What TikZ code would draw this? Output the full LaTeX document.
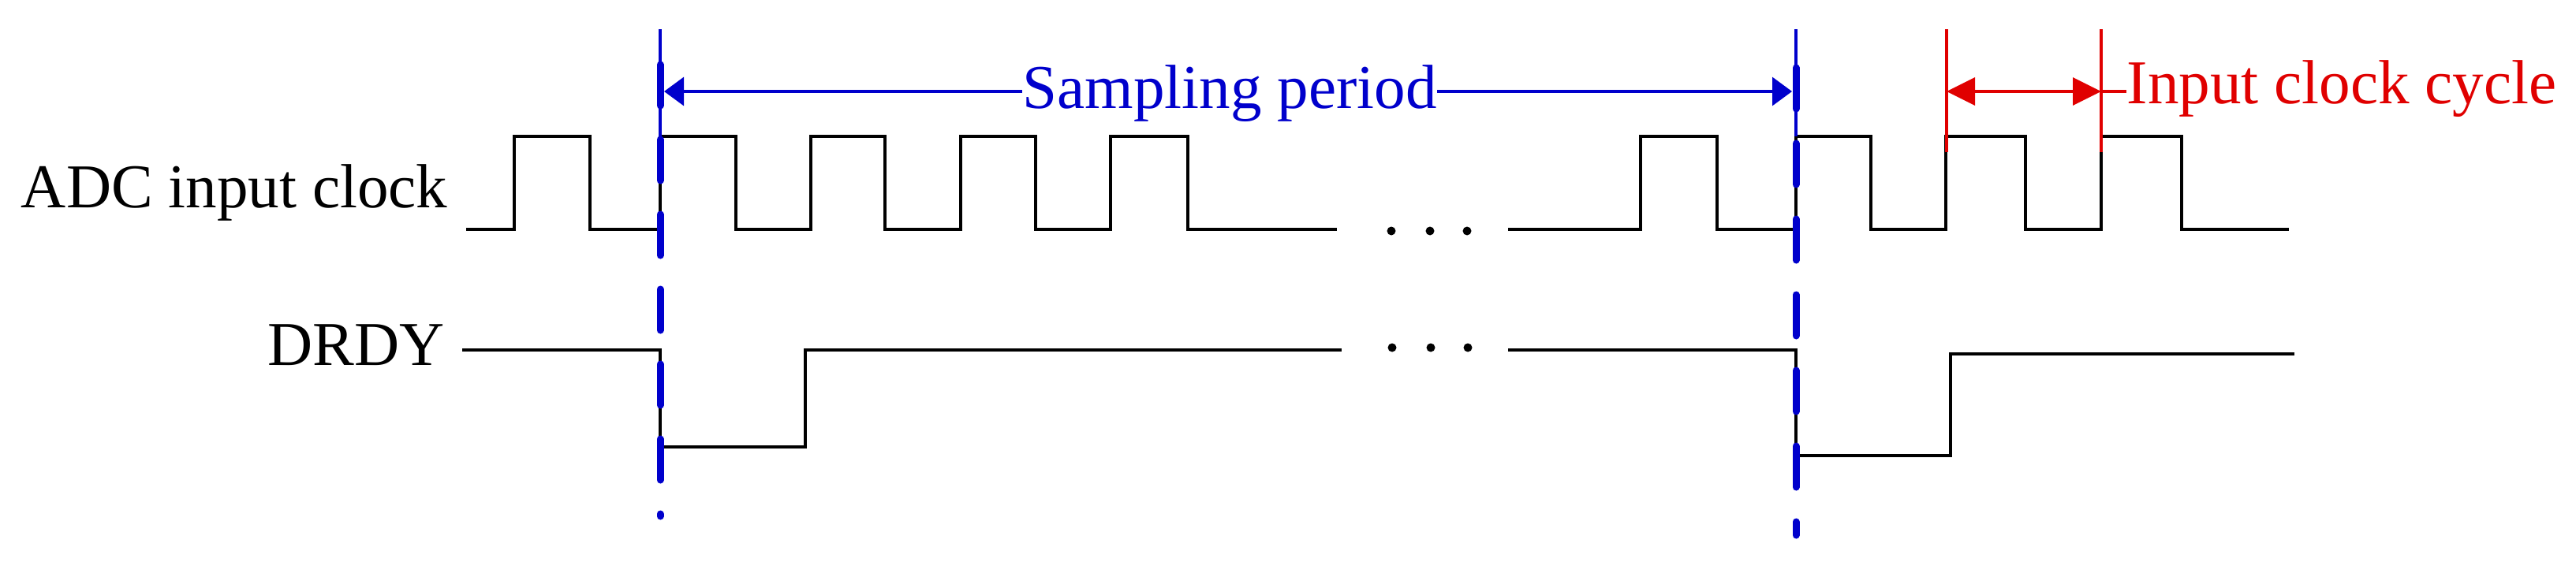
\documentclass[tikz,border=0pt]{standalone}
\usepackage{fontspec}
\setmainfont{Liberation Serif}
\usetikzlibrary{arrows.meta}
\definecolor{sampleblue}{RGB}{0,0,204}
\definecolor{cyclered}{RGB}{224,0,0}

\begin{document}
\begin{tikzpicture}[>={Triangle[length=2.5mm,width=3.6mm]},
		font=\fontsize{22.5}{27}\selectfont,
		wave/.style={line width=0.046cm, line join=miter},
		thinline/.style={line width=0.032cm},
		sampledash/.style={sampleblue, line width=0.09cm, line cap=round, dash pattern=on 0.52cm off 0.43cm}]
		\useasboundingbox (0,0) rectangle (32.66,7.12);
		
		\node[anchor=base east, inner sep=0] (clk) at (5.68,4.49) {ADC input clock};
		\node[anchor=base east, inner sep=0] (drdy) at (5.64,2.49) {DRDY};
		
		\draw[wave] (5.91,4.21) -| (6.52,5.39) -| (7.48,4.21) -| (8.37,5.39) -| (9.33,4.21) -| (10.28,5.39) -| (11.22,4.21)
		-| (12.18,5.39) -| (13.13,4.21) -| (14.08,5.39) -| (15.06,4.21) -- (16.95,4.21);
		\draw[wave] (19.12,4.21) -| (20.80,5.39) -| (21.77,4.21) -| (22.77,5.39) -| (23.72,4.21) -| (24.67,5.39) -| (25.68,4.21)
		-| (26.64,5.39) -| (27.66,4.21) -- (29.02,4.21);
		
		\draw[wave] (5.86,2.68) -| (8.37,1.45) -| (10.21,2.68) -- (17.01,2.68);
		\draw[wave] (19.12,2.68) -| (22.77,1.34) -| (24.73,2.63) -- (29.09,2.63);
		
		\foreach \x in {17.64,18.13,18.60} {
			\fill (\x,4.19) circle (0.055);
			\fill (\x+0.01,2.71) circle (0.055);
		}
		
		\draw[sampleblue, thinline] (8.37,6.75) -- (8.37,5.39);
		\draw[sampledash] (8.37,6.30) -- (8.37,0.57);
		\draw[sampleblue, thinline] (22.77,6.75) -- (22.77,5.39);
		\draw[sampledash, dash pattern=on 0.52cm off 0.44cm] (22.77,6.26) -- (22.77,0.33);
		
		\coordinate (sl) at (8.42,5.96);
		\coordinate (sr) at (22.72,5.96);
		\node[anchor=base west, inner sep=0, text=sampleblue] (sp) at (12.96,5.75) {Sampling period};
		\draw[sampleblue, thinline, <-] (sl) -- (sl -| sp.west);
		\draw[sampleblue, thinline, ->] (sp.east |- sr) -- (sr);
		
		\draw[cyclered, thinline] (24.68,6.75) -- (24.68,5.19);
		\draw[cyclered, thinline] (26.64,6.75) -- (26.64,5.19);
		\coordinate (cl) at (24.68,5.96);
		\coordinate (cr) at (26.64,5.96);
		\node[anchor=base west, inner sep=0, text=cyclered] (icc) at (26.96,5.81) {Input clock cycle};
		\draw[cyclered, thinline, <->, >={Triangle[length=3.6mm,width=3.5mm]}] (cl) -- (cr);
		\draw[cyclered, thinline] (cr) -- (cr -| icc.west);
		
	\end{tikzpicture}
\end{document}
